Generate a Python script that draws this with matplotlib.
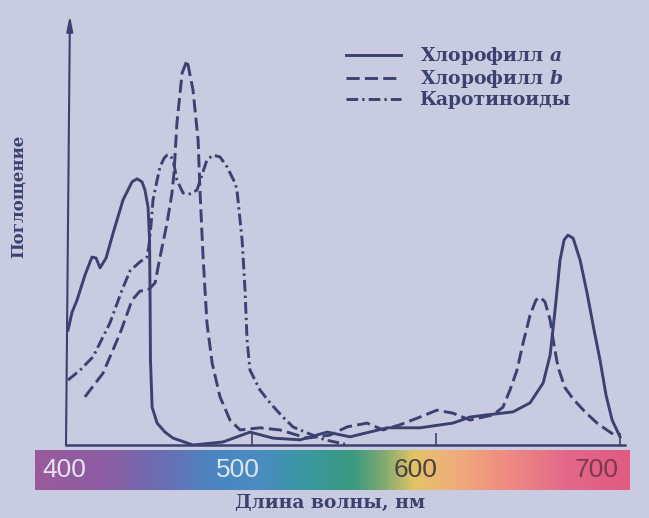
import numpy as np
import matplotlib
matplotlib.use('Agg')
import matplotlib.pyplot as plt
from matplotlib.colors import LinearSegmentedColormap

plt.rcParams['mathtext.fontset'] = 'custom'
plt.rcParams['mathtext.it'] = 'DejaVu Serif:italic:bold'

# wavelength (nm) and absorbance (arbitrary units, 0..100)
chl_a_nm = [400, 402.2, 404.9, 409.2, 413.0, 415.2, 417.4, 420.7, 424.5, 429.9,
            434.8, 437.5, 440.2, 441.8, 443.5, 444.3, 444.6, 444.8, 445.7, 448.4,
            452.7, 457.1, 467.9, 484.2, 498.9, 511.4, 526.1, 540.8, 553.3, 573.4,
            591.3, 609.2, 618.5, 627.7, 641.8, 651.1, 658.2, 662.0, 664.7, 667.4,
            669.6, 671.7, 674.5, 678.3, 682.1, 685.9, 689.1, 692.4, 695.7, 700.0]
chl_a_abs = [26.7, 30.9, 33.7, 39.5, 43.7, 43.5, 41.2, 43.5, 49.3, 57.0,
             61.2, 61.9, 61.2, 59.3, 55.3, 47.7, 33.7, 19.8, 8.8, 5.1,
             3.0, 1.6, 0.0, 0.7, 3.0, 1.6, 1.2, 3.0, 1.9, 4.0,
             4.0, 5.1, 6.5, 7.0, 7.7, 9.8, 14.4, 20.9, 31.4, 43.0,
             47.7, 48.8, 48.1, 43.0, 35.3, 26.7, 19.8, 11.6, 5.8, 1.9]

chl_b_nm = [409.2, 419.0, 428.3, 434.8, 439.1, 443.5, 447.3, 450.0, 453.8, 456.5,
            457.6, 459.2, 462.0, 464.7, 467.9, 470.7, 471.7, 473.4, 475.5, 478.3,
            482.6, 488.0, 493.5, 504.3, 515.2, 529.9, 542.4, 551.6, 562.5, 571.2,
            580.4, 591.3, 600.5, 609.2, 618.5, 631.0, 636.4, 640.2, 644.0, 647.3,
            651.1, 654.3, 656.5, 659.2, 662.0, 664.1, 666.3, 670.1, 674.5, 681.0,
            687.5, 693.5, 698.4]
chl_b_abs = [11.2, 16.7, 26.0, 33.7, 35.8, 36.0, 37.7, 43.7, 51.6, 58.6,
             63.3, 74.9, 86.5, 89.5, 82.6, 70.9, 59.3, 43.7, 28.4, 19.1,
             11.2, 5.8, 3.5, 4.0, 3.5, 1.6, 2.3, 4.2, 5.1, 3.5,
             4.7, 6.5, 8.1, 7.4, 5.8, 7.0, 8.8, 12.8, 17.4, 23.7,
             30.2, 33.7, 34.4, 33.3, 29.1, 23.3, 18.1, 13.3, 10.7, 7.7,
             5.1, 3.3, 1.9]

car_nm = [400, 406.5, 413.6, 422.8, 429.3, 433.7, 439.1, 442.9, 444.0, 445.1,
          446.2, 448.4, 450.0, 452.2, 453.8, 455.4, 457.1, 459.2, 462.5, 466.3,
          470.1, 472.8, 475.5, 478.8, 482.6, 486.4, 490.8, 491.8, 494.6, 496.2,
          497.3, 498.9, 504.3, 509.8, 516.3, 522.3, 529.9, 539.7, 550.5]
car_abs = [15.1, 17.4, 20.5, 28.4, 36.0, 40.5, 42.6, 43.7, 46.5, 51.2,
           57.0, 61.6, 64.7, 66.7, 67.4, 67.4, 66.3, 61.6, 58.6, 58.4,
           59.3, 62.8, 66.3, 67.4, 67.0, 64.7, 60.9, 59.3, 47.7, 36.0,
           24.4, 17.4, 12.8, 9.8, 6.7, 4.2, 2.8, 1.2, 0.2]

tick_nm = [500, 600, 700]
bar_labels = ['400', '500', '600', '700']
bar_label_nm = [397.8, 492.4, 589.1, 687.5]
bar_label_colors = ['#e4e4f2', '#dde6f2', '#4a4046', '#7a3a50']

ink = '#3b4170'
bg = '#c9cce0'

fig = plt.figure(figsize=(6.49, 5.18), dpi=100, facecolor=bg)

# main plot area
ax = fig.add_axes([66 / 649, 1 - 445 / 518, 559 / 649, 430 / 518])
ax.set_facecolor('none')
ax.set_xlim(398.9, 702.7)
ax.set_ylim(0, 100)

ax.plot(chl_a_nm, chl_a_abs, color=ink, lw=2.1, label='Хлорофилл $a$')
ax.plot(chl_b_nm, chl_b_abs, color=ink, lw=2.1, dashes=(4.5, 1.8),
        label='Хлорофилл $b$')
ax.plot(car_nm, car_abs, color=ink, lw=2.1, dashes=(4, 1.4, 0.8, 1.4),
        label='Каротиноиды')

for s in ['top', 'right', 'left']:
    ax.spines[s].set_visible(False)
ax.spines['bottom'].set_color(ink)
ax.spines['bottom'].set_linewidth(1.8)
ax.set_xticks(tick_nm)
ax.set_xticklabels([])
ax.set_yticks([])
ax.tick_params(axis='x', direction='in', length=9, width=1.2, color=ink)

# y axis with arrow
ax.annotate('', xy=(0.007, 1.0), xytext=(0.0, 0.0), xycoords='axes fraction',
            arrowprops=dict(arrowstyle='-|>,head_length=0.9,head_width=0.18',
                            color=ink, lw=1.5, shrinkA=0, shrinkB=0))

leg = ax.legend(loc='upper left', bbox_to_anchor=(337 / 649, 1 - 36 / 518),
                bbox_transform=fig.transFigure, frameon=False, handlelength=2.9,
                handletextpad=1.0, labelspacing=0.05, borderpad=0,
                prop={'family': 'DejaVu Serif', 'weight': 'bold', 'size': 13.5})
for t in leg.get_texts():
    t.set_color(ink)

fig.text(18 / 649, 1 - 196 / 518, 'Поглощение', rotation=90, ha='center',
         va='center', color=ink, family='DejaVu Serif', weight='bold', size=12)
fig.text(330 / 649, 1 - 503 / 518, 'Длина волны, нм', ha='center', va='center',
         color=ink, family='DejaVu Serif', weight='bold', size=13.5)

# visible spectrum strip
bax = fig.add_axes([35 / 649, 1 - 490 / 518, 595 / 649, 40 / 518])
lo, hi = 382, 705.4
stops = [(382, '#9a5a9c'), (420, '#8c5ca2'), (450, '#6a6eb2'), (480, '#4a86c2'),
         (505, '#4a8cc0'), (530, '#3a98a0'), (555, '#3a9a80'), (572, '#80aa70'),
         (588, '#e2c466'), (610, '#f0ae7a'), (640, '#ee8a82'), (672, '#e4688a'),
         (705.4, '#e05a82')]
cmap = LinearSegmentedColormap.from_list(
    'spec', [((w - lo) / (hi - lo), c) for w, c in stops])
grad = np.linspace(0, 1, 600)[None, :]
bax.imshow(grad, aspect='auto', cmap=cmap, extent=[lo, hi, 0, 1])
bax.set_xlim(lo, hi)
bax.set_ylim(0, 1)
bax.axis('off')
for lab, pos, col in zip(bar_labels, bar_label_nm, bar_label_colors):
    bax.text(pos, 0.5, lab, ha='center', va='center', color=col, size=19,
             family='Liberation Sans')

fig.savefig('out.png', dpi=100, facecolor=bg)
